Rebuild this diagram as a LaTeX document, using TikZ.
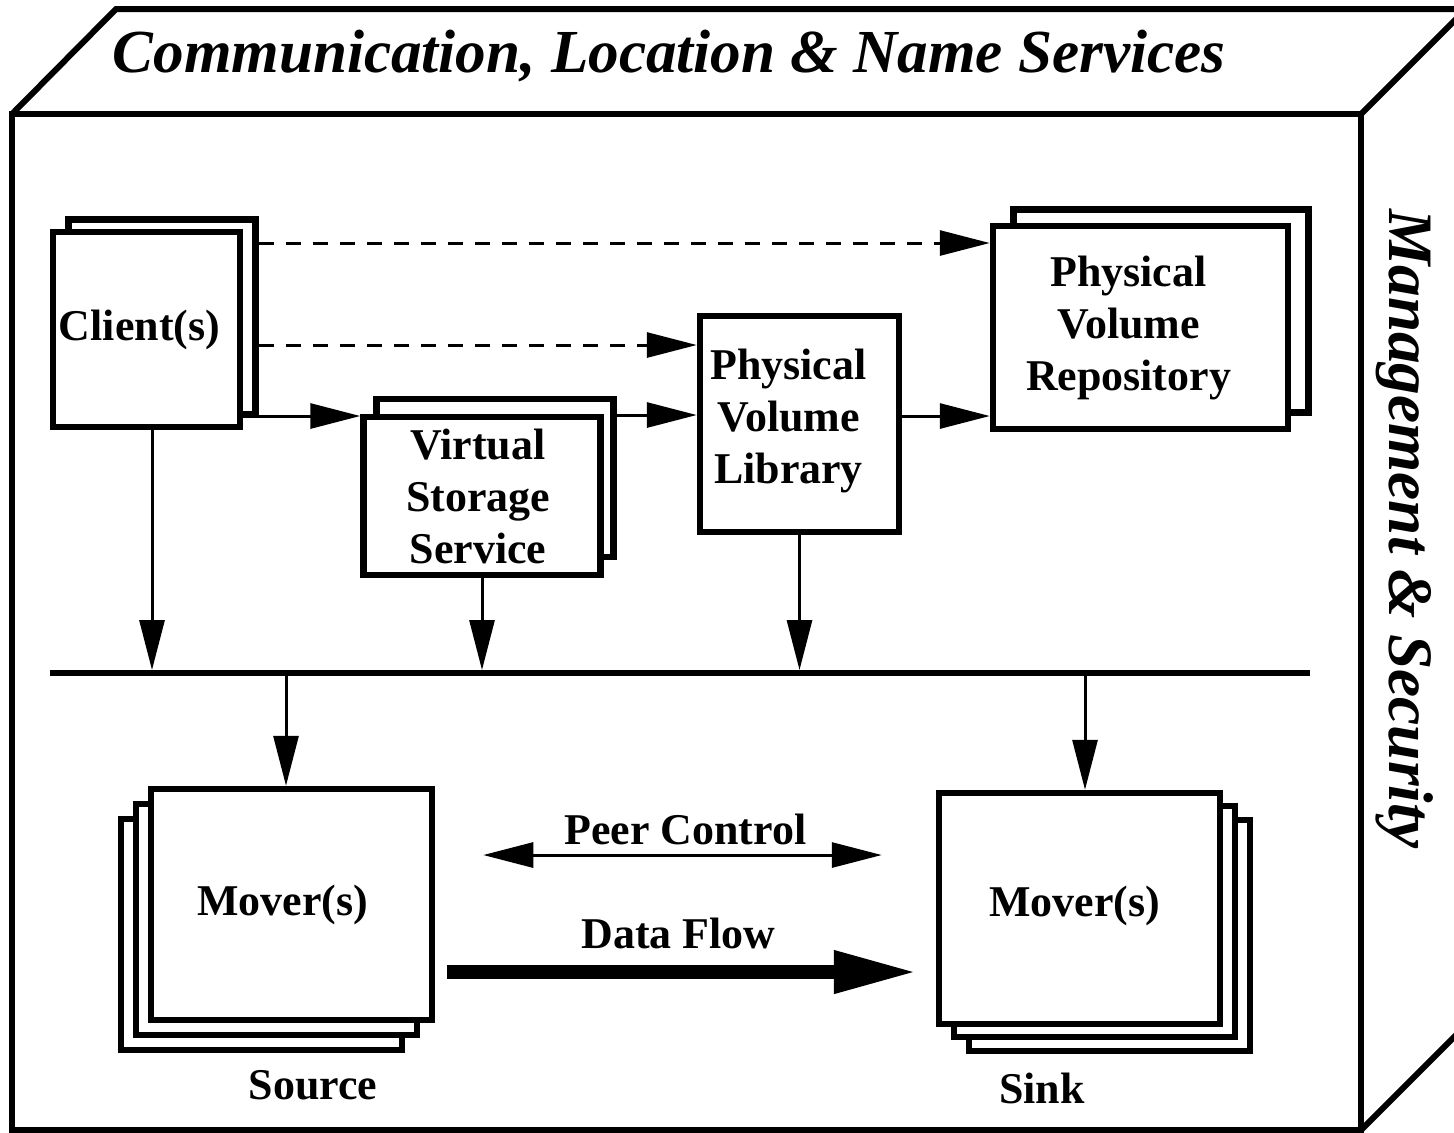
\documentclass[tikz,border=0pt]{standalone}
\usepackage{fontspec}
\setmainfont{Liberation Serif}
\usetikzlibrary{arrows.meta, positioning, calc}

\begin{document}
\begin{tikzpicture}[x=0.1mm, y=-0.1mm,
  frame/.style={line width=0.6mm, line join=miter},
  unit/.style={draw, line width=0.65mm, fill=white, inner sep=0pt},
  tr/.style={-{Triangle[length=5mm, width=2.5mm]}, line width=0.3mm},
  ctl/.style={tr, dash pattern=on 1.5mm off 1.2mm},
  lbl/.style={font=\fontsize{12.5}{14.8}\selectfont\bfseries, inner sep=1pt, align=center},
  side/.style={font=\fontsize{18}{20}\selectfont\bfseries\itshape, inner sep=0pt}
]
  \useasboundingbox (0,0) rectangle (1454,1132);
  \clip (0,0) rectangle (1454,1132);

  % Outer cube
  \draw[frame] (12,114) rectangle (1361,1130);
  \draw[frame] (12,114) -- (116,9) -- (1470,9);
  \draw[frame] (1361,114) -- (1470,5);
  \draw[frame] (1361,1130) -- (1470,1021);

  \node[side, font=\fontsize{17.4}{20}\selectfont\bfseries\itshape] (title) at (669,56)
    {Communication, Location \& Name Services};
  \node[side, rotate=-90] (mgmt) at (1405,529) {Management \& Security};

  % Upper units (back copies first)
  \node[unit, minimum width=18.7mm, minimum height=19.5mm] (cliB) at (162,317) {};
  \node[unit, minimum width=18.7mm, minimum height=19.5mm] (cli)  at (146.5,329.5) {};
  \node[lbl] (clitxt) at ([xshift=-0.7mm]cli.center) {Client(s)};

  \node[unit, minimum width=23.7mm, minimum height=15.8mm] (vssB) at (495,478) {};
  \node[unit, minimum width=23.7mm, minimum height=15.8mm] (vss)  at (482,496) {};
  \node[lbl] (vsstxt) at ([xshift=-0.4mm]vss.center) {Virtual\\Storage\\Service};

  \node[unit, minimum width=19.9mm, minimum height=21.6mm] (pvl) at (799.5,424) {};
  \node[lbl] (pvltxt) at ([xshift=-1.1mm, yshift=0.3mm]pvl.center) {Physical\\Volume\\Library};

  \node[unit, minimum width=29.5mm, minimum height=20.3mm] (pvrB) at (1161,311) {};
  \node[unit, minimum width=29.5mm, minimum height=20.3mm] (pvr)  at (1140.5,327.5) {};
  \node[lbl] (pvrtxt) at ([xshift=-1.2mm]pvr.center) {Physical\\Volume\\Repository};

  % Lower units
  \node[unit, minimum width=28.1mm, minimum height=23.1mm] (src3) at (261.5,934.5) {};
  \node[unit, minimum width=28.1mm, minimum height=23.1mm] (src2) at (276.5,919.5) {};
  \node[unit, minimum width=28.1mm, minimum height=23.1mm] (src)  at (291.5,904.5) {};
  \node[lbl] (srctxt) at ([xshift=-0.9mm]src.center) {Mover(s)};

  \node[unit, minimum width=28.1mm, minimum height=23.1mm] (snk3) at (1109.5,935.5) {};
  \node[unit, minimum width=28.1mm, minimum height=23.1mm] (snk2) at (1094.5,921.5) {};
  \node[unit, minimum width=28.1mm, minimum height=23.1mm] (snk)  at (1079.5,908.5) {};
  \node[lbl] (snktxt) at ([xshift=-0.5mm, yshift=0.3mm]snk.center) {Mover(s)};

  \node[lbl] (srclbl) at (313,1085) {Source};
  \node[lbl] (snklbl) at (1042,1088) {Sink};

  % Bus
  \draw[line width=0.6mm] (50,673) coordinate (busL) -- (1310,673) coordinate (busR);

  % Control paths
  \draw[ctl] (cliB.east |- 0,243) -- (pvr.west |- 0,243);
  \draw[ctl] (cliB.east |- 0,345) -- (pvl.west |- 0,345);
  \draw[tr] (cliB.east |- 0,416) -- (vss.west |- 0,416);
  \draw[tr] (vssB.east |- 0,415) -- (pvl.west |- 0,415);
  \draw[tr] (pvl.east |- 0,416) -- (pvr.west |- 0,416);

  % Down to the bus
  \draw[tr, shorten >=0.3mm] ([xshift=0.55mm]cli.south) -- ([xshift=0.55mm]cli.south |- busL);
  \draw[tr, shorten >=0.3mm] (vss.south) -- (vss.south |- busL);
  \draw[tr, shorten >=0.3mm] (pvl.south) -- (pvl.south |- busL);
  \draw[tr, shorten <=0.3mm] ([xshift=-0.55mm]src.north |- busL) -- ([xshift=-0.55mm]src.north);
  \draw[tr, shorten <=0.3mm] ([xshift=0.55mm]snk.north |- busL) -- ([xshift=0.55mm]snk.north);

  % Between movers
  \draw[{Triangle[length=5mm, width=2.5mm]}-{Triangle[length=5mm, width=2.5mm]}, line width=0.3mm,
        shorten <=4.8mm, shorten >=5.4mm]
    (src.east |- 0,855) -- node[lbl, above=0.5mm] {Peer Control} (snk.west |- 0,855);
  \draw[-{Triangle[length=8.3mm, width=4mm]}, line width=1.35mm, shorten <=1.2mm, shorten >=1.9mm]
    (src.east |- 0,972) -- node[lbl, above=1.3mm, xshift=-0.7mm] {Data Flow} (snk.west |- 0,972);
\end{tikzpicture}
\end{document}
